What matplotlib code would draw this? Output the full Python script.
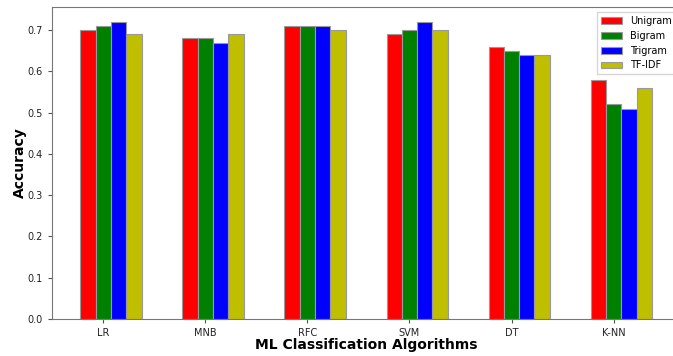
import numpy as np
import matplotlib
matplotlib.use("Agg")
import matplotlib.pyplot as plt

algorithms = ["LR", "MNB", "RFC", "SVM", "DT", "K-NN"]
unigram = [0.70, 0.68, 0.71, 0.69, 0.66, 0.58]
bigram = [0.71, 0.68, 0.71, 0.70, 0.65, 0.52]
trigram = [0.72, 0.67, 0.71, 0.72, 0.64, 0.51]
tfidf = [0.69, 0.69, 0.70, 0.70, 0.64, 0.56]

series = [("Unigram", unigram, "r"), ("Bigram", bigram, "g"),
          ("Trigram", trigram, "b"), ("TF-IDF", tfidf, "y")]

fig = plt.figure(figsize=(6.73, 3.56), dpi=100)
ax = fig.add_axes([0.077, 0.104, 0.934, 0.876])

x = np.arange(len(algorithms))
w = 0.15
for i, (name, vals, col) in enumerate(series):
    ax.bar(x + i * w, vals, w, color=col, edgecolor="#999999", linewidth=0.8, label=name)

ax.set_xticks(x + w)
ax.set_xticklabels(algorithms)
ax.tick_params(labelsize=7, colors="#555555", labelcolor="#222222", length=3)
for s in ax.spines.values():
    s.set_color("#777777")

ax.set_xlabel("ML Classification Algorithms", fontsize=10, fontweight="bold", labelpad=0)
ax.set_ylabel("Accuracy", fontsize=10, fontweight="bold", labelpad=0)

ax.legend(loc="upper right", fontsize=7, fancybox=False, edgecolor="#cccccc",
          handlelength=2.2, borderaxespad=0.5)

fig.savefig("out.png", dpi=100)
